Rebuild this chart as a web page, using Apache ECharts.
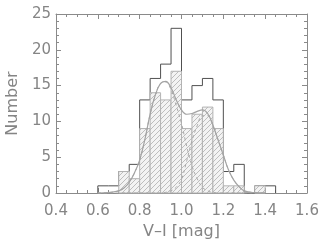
<!DOCTYPE html>
<html>
<head>
<meta charset="utf-8">
<script src="https://cdn.jsdelivr.net/npm/echarts@6/dist/echarts.min.js"></script>
<style>
html,body{margin:0;padding:0;background:#fff;}
#c{width:327px;height:242px;}
</style>
</head>
<body>
<div id="c"></div>
<script>
// ---- data ----
var binStarts   = [0.60,0.65,0.70,0.75,0.80,0.85,0.90,0.95,1.00,1.05,1.10,1.15,1.20,1.25,1.30,1.35,1.40];
var binWidth    = 0.05;
var allCounts   = [1,1,3,4,13,16,18,23,13,15,16,13,3,4,0,1,1];
var subCounts   = [0,0,3,2,9,14,13,17,9,11,12,9,1,1,0,1,0];

var curveX      = [0.60,0.65,0.70,0.725,0.75,0.775,0.80,0.825,0.85,0.875,0.90,0.925,0.95,0.975,1.00,1.025,1.05,1.075,1.10,1.125,1.15,1.175,1.20,1.225,1.25,1.275,1.30,1.35,1.40];
var sumCurve    = [0.0,0.05,0.3,0.7,1.5,2.8,4.6,7.5,11.0,13.7,15.3,15.6,14.7,13.0,11.6,11.0,11.1,11.4,11.6,11.1,9.5,7.4,5.3,3.2,1.8,0.9,0.3,0.05,0.0];
var comp1       = [0.0,0.05,0.3,0.7,1.5,2.8,4.6,7.5,11.0,13.7,15.3,15.5,14.4,12.2,9.7,6.5,3.8,2.0,0.8,0.3,0.1,0.0,0.0,0.0,0.0,0.0,0.0,0.0,0.0];
var comp2       = [0.0,0.0,0.0,0.0,0.0,0.0,0.0,0.0,0.0,0.0,0.0,0.1,0.3,0.8,1.9,4.5,7.3,9.4,10.8,10.8,9.4,7.4,5.3,3.2,1.8,0.9,0.3,0.05,0.0];

var xTicks = {min:0.4, max:1.6, interval:0.2};
var yTicks = {min:0, max:25, interval:5};
var xTitle = 'V\u2013I [mag]';
var yTitle = 'Number';

// ---- build ----
var stepPts = [];
for (var i=0;i<binStarts.length;i++){
  var a = binStarts[i], b = +(binStarts[i]+binWidth).toFixed(3);
  if (i===0) stepPts.push([a,0]);
  stepPts.push([a,allCounts[i]]);
  stepPts.push([b,allCounts[i]]);
}
stepPts.push([+(binStarts[binStarts.length-1]+binWidth).toFixed(3),0]);

var barData = [];
for (var j=0;j<binStarts.length;j++){
  if (subCounts[j]>0) barData.push([binStarts[j], +(binStarts[j]+binWidth).toFixed(3), subCounts[j]]);
}
function zip(xs,ys){return xs.map(function(x,k){return [x,ys[k]];});}

var tile = document.createElement('canvas');
tile.width = 5; tile.height = 5;
var g = tile.getContext('2d');
g.fillStyle = '#f3f3f3'; g.fillRect(0,0,5,5);
g.strokeStyle = '#bdbdbd'; g.lineWidth = 1;
g.beginPath(); g.moveTo(-1,6); g.lineTo(6,-1); g.stroke();
var pattern = {image: tile, repeat: 'repeat'};

var textCol = '#858585', frameCol = '#8a8a8a';
var fontFam = 'DejaVu Sans';

function xAxisCfg(pos, show){
  return {type:'value', position:pos, min:xTicks.min, max:xTicks.max, interval:xTicks.interval,
    axisLine:{show:true, onZero:false, lineStyle:{color:frameCol, width:1}},
    axisTick:{show:true, inside:true, length:5, lineStyle:{color:frameCol}},
    minorTick:{show:true, splitNumber:4, length:3, lineStyle:{color:frameCol}},
    splitLine:{show:false},
    axisLabel:{show:show, margin:11, color:textCol, fontFamily:fontFam, fontSize:15,
      formatter:function(v){return v.toFixed(1);}},
    name: show? xTitle : '', nameLocation:'middle', nameGap:18,
    nameTextStyle:{color:textCol, fontFamily:fontFam, fontSize:16}
  };
}
function yAxisCfg(pos, show){
  return {type:'value', position:pos, min:yTicks.min, max:yTicks.max, interval:yTicks.interval,
    axisLine:{show:true, onZero:false, lineStyle:{color:frameCol, width:1}},
    axisTick:{show:true, inside:true, length:5, lineStyle:{color:frameCol}},
    minorTick:{show:true, splitNumber:5, length:3, lineStyle:{color:frameCol}},
    splitLine:{show:false},
    axisLabel:{show:show, margin:5, color:textCol, fontFamily:fontFam, fontSize:15},
    name: show? yTitle : '', nameLocation:'middle', nameGap:32,
    nameTextStyle:{color:textCol, fontFamily:fontFam, fontSize:16}
  };
}

var chart = echarts.init(document.getElementById('c'), null, {renderer:'canvas'});
chart.setOption({
  animation:false,
  backgroundColor:'#fff',
  grid:{left:56, right:20, top:14, bottom:49, containLabel:false, outerBoundsMode:'none'},
  xAxis:[xAxisCfg('bottom',true), xAxisCfg('top',false)],
  yAxis:[yAxisCfg('left',true), yAxisCfg('right',false)],
  series:[
    {type:'line', xAxisIndex:0, yAxisIndex:0, data:stepPts, symbol:'none',
     lineStyle:{color:'#505050', width:1}, z:2},
    {type:'custom', xAxisIndex:0, yAxisIndex:0, data:barData, z:3,
     renderItem:function(params, api){
       var p0 = api.coord([api.value(0), api.value(2)]);
       var p1 = api.coord([api.value(1), 0]);
       return {type:'rect', shape:{x:p0[0], y:p0[1], width:p1[0]-p0[0], height:p1[1]-p0[1]},
               style:{fill:pattern, stroke:'#b3b3b3', lineWidth:1}};
     }},
    {type:'line', xAxisIndex:0, yAxisIndex:0, data:zip(curveX,comp1), symbol:'none', smooth:0.4,
     lineStyle:{color:'#a9a9a9', width:1, type:[3,3]}, z:4},
    {type:'line', xAxisIndex:0, yAxisIndex:0, data:zip(curveX,comp2), symbol:'none', smooth:0.4,
     lineStyle:{color:'#a9a9a9', width:1, type:[3,3]}, z:4},
    {type:'line', xAxisIndex:0, yAxisIndex:0, data:zip(curveX,sumCurve), symbol:'none', smooth:0.4,
     lineStyle:{color:'#a3a3a3', width:1.2}, z:5}
  ]
});
</script>
</body>
</html>
